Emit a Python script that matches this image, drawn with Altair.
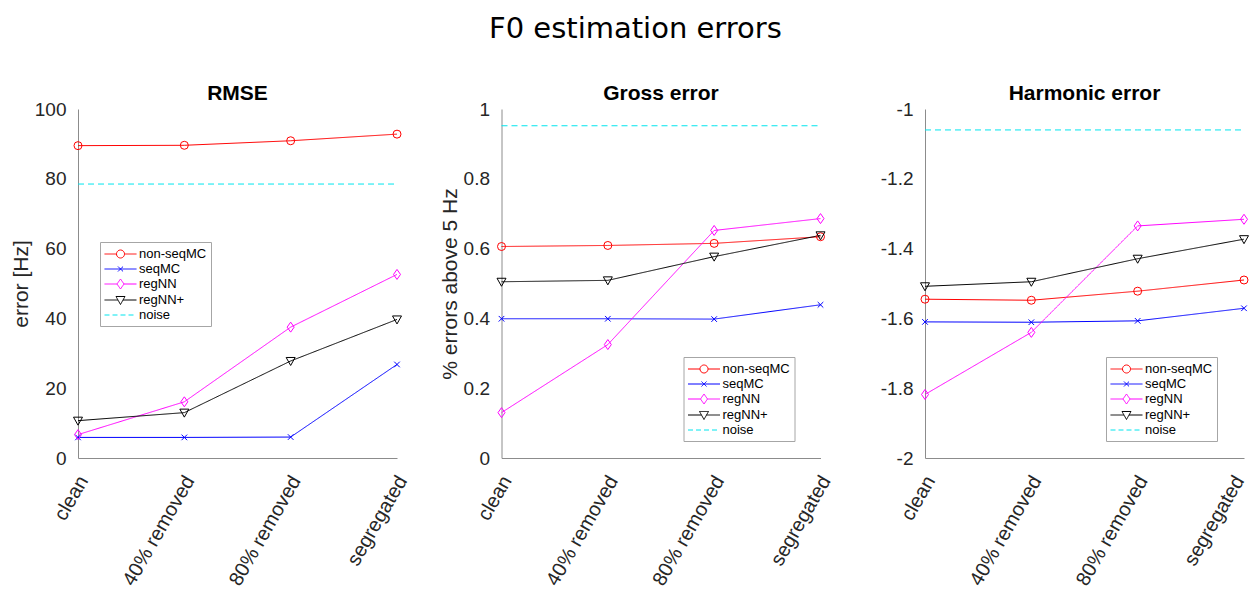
import altair as alt
import pandas as pd

categories = ["clean", "40% removed", "80% removed", "segregated"]
series = ["non-seqMC", "seqMC", "regNN", "regNN+", "noise"]

rmse_nonseq = [89.5, 89.6, 90.9, 92.8]
rmse_seq = [5.9, 5.9, 6.0, 26.8]
rmse_regnn = [6.7, 16.1, 37.5, 52.6]
rmse_regnnp = [10.7, 13.0, 27.8, 39.7]
rmse_noise = 78.5

gross_nonseq = [0.606, 0.609, 0.615, 0.634]
gross_seq = [0.399, 0.399, 0.398, 0.439]
gross_regnn = [0.130, 0.325, 0.652, 0.686]
gross_regnnp = [0.505, 0.509, 0.577, 0.638]
gross_noise = 0.952

harm_nonseq = [-1.545, -1.548, -1.522, -1.490]
harm_seq = [-1.610, -1.611, -1.607, -1.571]
harm_regnn = [-1.818, -1.640, -1.335, -1.316]
harm_regnnp = [-1.508, -1.495, -1.429, -1.373]
harm_noise = -1.060

colors = ["#ff0000", "#0000ff", "#ff00ff", "#000000", "#00e5ee"]
dashes = [[1, 0], [1, 0], [1, 0], [1, 0], [6, 4]]

# marker paths for data points
marker_paths = {
    "non-seqMC": "circle",
    "seqMC": "M-0.7,-0.7L0.7,0.7M-0.7,0.7L0.7,-0.7",
    "regNN": "M0,-1.25L0.875,0L0,1.25L-0.875,0Z",
    "regNN+": "M-1.125,-0.875L1.125,-0.875L0,1.125Z",
}
# legend symbol paths (line + marker)
legend_paths = [
    "M-1,0L0.6,0M1.667,0L3.267,0M0.6,0A0.533,0.533 0 1,0 1.667,0A0.533,0.533 0 1,0 0.6,0",
    "M-1,0L3.267,0M0.8,-0.333L1.467,0.333M0.8,0.333L1.467,-0.333",
    "M-1,0L0.667,0M1.6,0L3.267,0M1.133,-0.667L1.6,0L1.133,0.667L0.667,0Z",
    "M-1,0L0.796,0M1.47,0L3.267,0M0.533,-0.467L1.733,-0.467L1.133,0.6Z",
    "M-1,0L-0.333,0M0.067,0L0.733,0M1.133,0L1.8,0M2.2,0L2.867,0",
]

LABEL_FONT = "Liberation Sans"


def make_df(vals):
    rows = []
    for s, v in zip(series, vals):
        if not isinstance(v, list):
            v = [v] * len(categories)
        for c, y in zip(categories, v):
            rows.append({"cat": c, "series": s, "value": y})
    return pd.DataFrame(rows)


def legend_params(lx, ly):
    return alt.Legend(
        title=None,
        orient="none",
        legendX=lx,
        legendY=ly,
        direction="vertical",
        symbolSize=225,
        symbolStrokeWidth=1,
        labelFontSize=13,
        labelFont=LABEL_FONT,
        labelColor="#000000",
        labelOffset=19,
        rowPadding=0,
        padding=4,
        strokeColor="#a6a6a6",
        fillColor="#ffffff",
        cornerRadius=0,
    )


def panel(df, title, ytitle, ydomain, legend_x, legend_y, last_offset=None):
    base = alt.Chart(df)
    label_offset = 5
    if last_offset is not None:
        label_offset = {
            "condition": {"test": f"datum.value == '{categories[-1]}'", "value": last_offset},
            "value": 5,
        }
    x_enc = alt.X(
        "cat:N",
        sort=categories,
        scale=alt.Scale(domain=categories, padding=0),
        axis=alt.Axis(
            title=None,
            labelAngle=-60,
            labelAlign="right",
            labelBaseline="middle",
            labelPadding=19,
            labelOffset=label_offset,
            labelFontSize=20,
        ),
    )
    y_axis = alt.Axis(
        title=ytitle if ytitle else None,
        values=[ydomain[0] + i * (ydomain[1] - ydomain[0]) / 5 for i in range(6)],
        labelExpr="'' + round(datum.value * 10) / 10",
        labelPadding=12,
        titlePadding=3,
    )
    y_enc = alt.Y("value:Q", scale=alt.Scale(domain=ydomain, nice=False, zero=False), axis=y_axis)
    color_enc = alt.Color("series:N", scale=alt.Scale(domain=series, range=colors), legend=None)

    leg = (
        base.transform_filter("false")
        .mark_point(filled=False, size=225, strokeWidth=1, opacity=1)
        .encode(
            color=alt.Color(
                "series:N",
                scale=alt.Scale(domain=series, range=colors),
                legend=legend_params(legend_x, legend_y),
            ),
            shape=alt.Shape(
                "series:N",
                scale=alt.Scale(domain=series, range=legend_paths),
                legend=legend_params(legend_x, legend_y),
            ),
        )
    )
    lines = base.mark_line(strokeWidth=1).encode(
        x=x_enc,
        y=y_enc,
        color=color_enc,
        strokeDash=alt.StrokeDash("series:N", scale=alt.Scale(domain=series, range=dashes), legend=None),
        detail="series:N",
    )
    pts = []
    for s in series[:4]:
        pts.append(
            base.transform_filter(alt.datum.series == s)
            .mark_point(shape=marker_paths[s], size=64, filled=False, strokeWidth=1, opacity=1)
            .encode(x=x_enc, y=y_enc, color=color_enc)
        )
    return alt.layer(leg, lines, *pts).properties(
        width=319,
        height=349,
        title=alt.TitleParams(
            title, font=LABEL_FONT, fontSize=21, fontWeight="bold", color="#000000", offset=-4
        ),
    )


p1 = panel(make_df([rmse_nonseq, rmse_seq, rmse_regnn, rmse_regnnp, rmse_noise]),
           "RMSE", "error [Hz]", [0, 100], 22, 133)
p2 = panel(make_df([gross_nonseq, gross_seq, gross_regnn, gross_regnnp, gross_noise]),
           "Gross error", "% errors above 5 Hz", [0, 1], 182, 248)
p3 = panel(make_df([harm_nonseq, harm_seq, harm_regnn, harm_regnnp, harm_noise]),
           "Harmonic error", None, [-2, -1], 181, 248, last_offset=-5)

chart = (
    alt.hconcat(p1, p2, p3, spacing=104.5, bounds="flush")
    .resolve_scale(color="independent", shape="independent", strokeDash="independent")
    .resolve_legend(color="independent", shape="independent")
    .properties(
        title=alt.TitleParams(
            "F0 estimation errors",
            font="DejaVu Sans",
            fontSize=29,
            fontWeight="normal",
            color="#000000",
            anchor="middle",
            dx=5,
            offset=39,
        ),
        padding={"left": 78, "top": 109, "right": 1172, "bottom": 481},
        autosize=alt.AutoSizeParams(type="none"),
        background="#ffffff",
    )
    .configure_view(stroke=None)
    .configure_axis(
        grid=False,
        ticks=False,
        domainColor="#8c8c8c",
        domainWidth=1,
        labelFont=LABEL_FONT,
        labelFontSize=19,
        labelColor="#262626",
        titleFont=LABEL_FONT,
        titleFontSize=21,
        titleFontWeight="normal",
        titleColor="#262626",
    )
)

chart.save("out.html", embed_options={"renderer": "svg", "actions": False})
